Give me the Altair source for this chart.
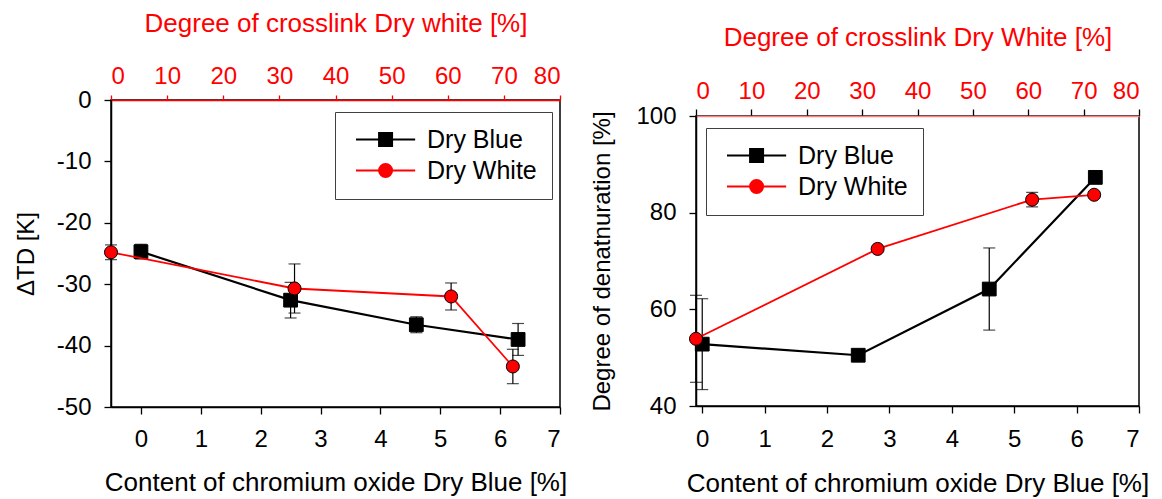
import altair as alt
import pandas as pd

FONT = "Liberation Sans"
SERIES = ["Dry Blue", "Dry White"]
SERIES_COLORS = ["black", "red"]

# ---- Left panel: Delta TD [K] ----
td_blue_x = [0.0, 2.5, 4.6, 6.3]
td_blue_y = [-24.7, -32.6, -36.6, -39.0]
td_blue_err = [1.2, 2.9, 1.3, 2.6]
td_white_x = [0.0, 32.7, 60.6, 71.6]
td_white_y = [-24.8, -30.7, -32.0, -43.4]
td_white_err = [1.2, 4.0, 2.2, 2.8]

# ---- Right panel: degree of denaturation [%] ----
dn_blue_x = [0.0, 2.5, 4.6, 6.3]
dn_blue_y = [52.8, 50.5, 64.2, 87.3]
dn_blue_err = [9.4, 1.2, 8.5, 1.0]
dn_white_x = [0.0, 32.8, 60.7, 71.9]
dn_white_y = [53.9, 72.5, 82.7, 83.7]
dn_white_err = [9.0, 0.5, 1.5, 0.6]

bottom_ticks = [0, 1, 2, 3, 4, 5, 6, 7]
top_ticks = [0, 10, 20, 30, 40, 50, 60, 70, 80]
td_y_ticks = [0, -10, -20, -30, -40, -50]
dn_y_ticks = [40, 60, 80, 100]

BOTTOM_TITLE = "Content of chromium oxide Dry Blue [%]"

# legend symbols: line with marker (custom paths, unit = half marker size)
SQ_PATH = "M-1 0H8.1M2.55 -1H4.55V1H2.55Z"
CI_PATH = "M-1 0H8.1M2.55 0A1 1 0 1 0 4.55 0A1 1 0 1 0 2.55 0Z"

INDEP = dict(fill="independent", stroke="independent", shape="independent")


def series_layer(xs, ys, errs, color, shape, size, line_w, x_scale, x_axis, xtitle,
                 y_scale, y_axis, ytitle):
    df = pd.DataFrame({"x": xs, "y": ys, "err": errs})
    base = alt.Chart(df).transform_calculate(
        lo="datum.y - datum.err", hi="datum.y + datum.err"
    )
    X = alt.X("x:Q", scale=x_scale, axis=x_axis, title=xtitle)
    err = base.mark_rule(color="black", strokeWidth=1.2).encode(
        x=X, y=alt.Y("lo:Q", scale=y_scale, axis=y_axis, title=ytitle), y2="hi:Q"
    )
    caps = [
        base.mark_tick(color="black", orient="horizontal", size=12, thickness=1.2).encode(
            x=X, y=alt.Y(f"{f}:Q", title=ytitle)
        )
        for f in ("lo", "hi")
    ]
    line = base.mark_line(color=color, strokeWidth=line_w).encode(
        x=X, y=alt.Y("y:Q", title=ytitle)
    )
    pts = base.mark_point(
        shape=shape, filled=True, size=size, fill=color, stroke="black",
        strokeWidth=1, opacity=1
    ).encode(x=X, y=alt.Y("y:Q", title=ytitle))
    return alt.layer(err, *caps, line, pts)


def legend_layer(lx, ly):
    leg = alt.Legend(
        title=None, orient="none", legendX=lx, legendY=ly,
        labelFont=FONT, labelFontSize=25, labelColor="black", labelOffset=52,
        symbolSize=169, symbolStrokeWidth=2, symbolOpacity=1,
        rowPadding=5, padding=15, strokeColor="#404040", fillColor="white",
    )
    df = pd.DataFrame({"series": SERIES})
    return alt.Chart(df).mark_point(filled=True, opacity=0, size=169).encode(
        fill=alt.Fill("series:N", scale=alt.Scale(domain=SERIES, range=SERIES_COLORS), legend=leg),
        stroke=alt.Stroke("series:N", scale=alt.Scale(domain=SERIES, range=SERIES_COLORS), legend=leg),
        shape=alt.Shape("series:N", scale=alt.Scale(domain=SERIES, range=[SQ_PATH, CI_PATH]), legend=leg),
    )


def panel(bx, by, be, wx, wy, we, b_dom, y_dom, y_ticks, ytitle, top_title,
          top_tick_color, top_domain_color, top_tick_size, top_label_pad, top_title_pad,
          bottom_label_pad, bottom_title_pad, width, height, lx, ly, y_title_pad):
    y_scale = alt.Scale(domain=y_dom, nice=False, zero=False)
    y_axis = alt.Axis(values=y_ticks, tickSize=7, labelPadding=13, titleFontSize=24,
                      titlePadding=y_title_pad, domainColor="black", tickColor="black",
                      labelExpr="'' + datum.value")
    b_axis = alt.Axis(orient="bottom", values=bottom_ticks, tickSize=7,
                      labelPadding=bottom_label_pad, titlePadding=bottom_title_pad,
                      domainColor="black", tickColor="black")
    t_axis = alt.Axis(orient="top", values=top_ticks, tickSize=top_tick_size,
                      labelPadding=top_label_pad, titlePadding=top_title_pad,
                      labelColor="red", titleColor="red",
                      tickColor=top_tick_color, domainColor=top_domain_color)
    blue = series_layer(bx, by, be, "black", "square", 190, 2.2,
                        alt.Scale(domain=b_dom, nice=False, zero=False), b_axis, BOTTOM_TITLE,
                        y_scale, y_axis, ytitle)
    white = series_layer(wx, wy, we, "red", "circle", 170, 1.8,
                         alt.Scale(domain=[0, 80], nice=False, zero=False), t_axis, top_title,
                         y_scale, y_axis, ytitle)
    return alt.layer(blue, white, legend_layer(lx, ly)).resolve_scale(x="independent").properties(
        width=width, height=height
    )


def column(p, spacer_h):
    spacer = alt.Chart(pd.DataFrame({"s": [0]})).mark_point(opacity=0, size=1).properties(
        width=1, height=spacer_h, view=alt.ViewBackground(stroke=None)
    )
    return alt.vconcat(spacer, p, spacing=0).resolve_scale(**INDEP).resolve_legend(**INDEP)


left = panel(td_blue_x, td_blue_y, td_blue_err, td_white_x, td_white_y, td_white_err,
             [-0.5, 7], [-50, 0], td_y_ticks, "\u0394TD [K]",
             "Degree of crosslink Dry white [%]", "red", "red", 5, 7, 28, 13, 18,
             449, 307, 224, 12, 18)

right = panel(dn_blue_x, dn_blue_y, dn_blue_err, dn_white_x, dn_white_y, dn_white_err,
              [-0.1, 7], [40, 100], dn_y_ticks, "Degree of denatnuration [%]",
              "Degree of crosslink Dry White [%]", "black", "#ff8080", 7, 6, 29, 14, 19,
              443, 290, 10, 12, 21)

chart = alt.hconcat(column(left, 1), column(right, 15), spacing=22).resolve_scale(
    **INDEP
).resolve_legend(**INDEP).properties(
    padding={"left": 5, "top": 0, "right": 0, "bottom": 0}
).configure_axis(
    labelFont=FONT, titleFont=FONT, labelFontSize=24, titleFontSize=26,
    titleFontWeight="normal", labelColor="black", titleColor="black",
    grid=False, domainWidth=1.5, tickWidth=1.3,
).configure_view(stroke="black", strokeWidth=1.5).configure_title(font=FONT)

chart.save("out.html", embed_options={"renderer": "svg", "actions": False})
